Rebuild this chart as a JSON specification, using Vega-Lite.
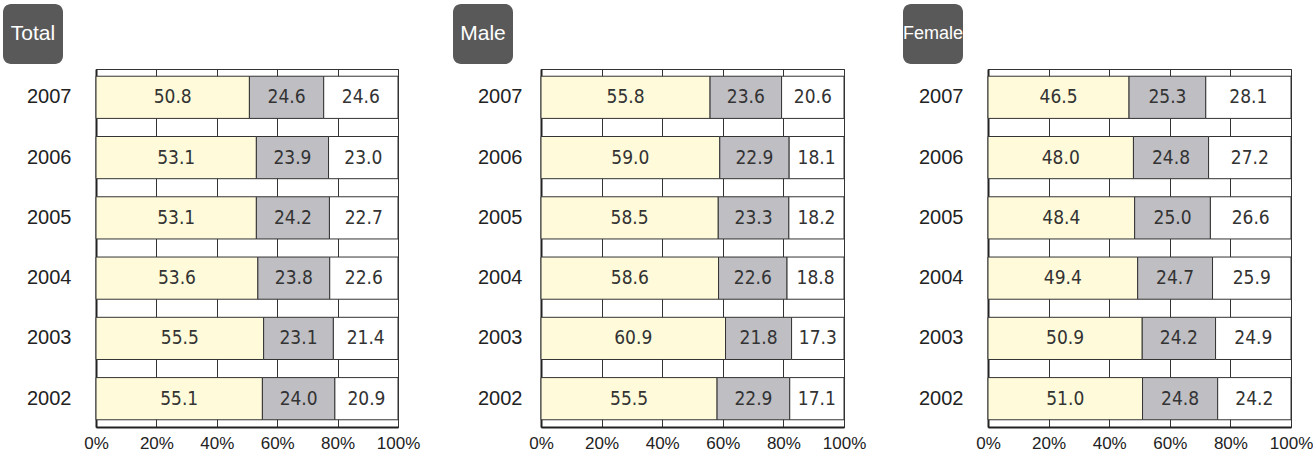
{
  "$schema": "https://vega.github.io/schema/vega-lite/v6.json",
  "padding": {"left": 3, "top": 4, "right": 0, "bottom": 0},
  "background": "white",
  "config": {
    "view": {"stroke": "#333", "strokeWidth": 1},
    "font": "Liberation Sans"
  },
  "datasets": {
    "d": [
      {"panel": "Total", "year": "2007", "seg": "seg1", "value": 50.8},
      {"panel": "Total", "year": "2007", "seg": "seg2", "value": 24.6},
      {"panel": "Total", "year": "2007", "seg": "seg3", "value": 24.6},
      {"panel": "Total", "year": "2006", "seg": "seg1", "value": 53.1},
      {"panel": "Total", "year": "2006", "seg": "seg2", "value": 23.9},
      {"panel": "Total", "year": "2006", "seg": "seg3", "value": 23.0},
      {"panel": "Total", "year": "2005", "seg": "seg1", "value": 53.1},
      {"panel": "Total", "year": "2005", "seg": "seg2", "value": 24.2},
      {"panel": "Total", "year": "2005", "seg": "seg3", "value": 22.7},
      {"panel": "Total", "year": "2004", "seg": "seg1", "value": 53.6},
      {"panel": "Total", "year": "2004", "seg": "seg2", "value": 23.8},
      {"panel": "Total", "year": "2004", "seg": "seg3", "value": 22.6},
      {"panel": "Total", "year": "2003", "seg": "seg1", "value": 55.5},
      {"panel": "Total", "year": "2003", "seg": "seg2", "value": 23.1},
      {"panel": "Total", "year": "2003", "seg": "seg3", "value": 21.4},
      {"panel": "Total", "year": "2002", "seg": "seg1", "value": 55.1},
      {"panel": "Total", "year": "2002", "seg": "seg2", "value": 24.0},
      {"panel": "Total", "year": "2002", "seg": "seg3", "value": 20.9},
      {"panel": "Male", "year": "2007", "seg": "seg1", "value": 55.8},
      {"panel": "Male", "year": "2007", "seg": "seg2", "value": 23.6},
      {"panel": "Male", "year": "2007", "seg": "seg3", "value": 20.6},
      {"panel": "Male", "year": "2006", "seg": "seg1", "value": 59.0},
      {"panel": "Male", "year": "2006", "seg": "seg2", "value": 22.9},
      {"panel": "Male", "year": "2006", "seg": "seg3", "value": 18.1},
      {"panel": "Male", "year": "2005", "seg": "seg1", "value": 58.5},
      {"panel": "Male", "year": "2005", "seg": "seg2", "value": 23.3},
      {"panel": "Male", "year": "2005", "seg": "seg3", "value": 18.2},
      {"panel": "Male", "year": "2004", "seg": "seg1", "value": 58.6},
      {"panel": "Male", "year": "2004", "seg": "seg2", "value": 22.6},
      {"panel": "Male", "year": "2004", "seg": "seg3", "value": 18.8},
      {"panel": "Male", "year": "2003", "seg": "seg1", "value": 60.9},
      {"panel": "Male", "year": "2003", "seg": "seg2", "value": 21.8},
      {"panel": "Male", "year": "2003", "seg": "seg3", "value": 17.3},
      {"panel": "Male", "year": "2002", "seg": "seg1", "value": 55.5},
      {"panel": "Male", "year": "2002", "seg": "seg2", "value": 22.9},
      {"panel": "Male", "year": "2002", "seg": "seg3", "value": 17.1},
      {"panel": "Female", "year": "2007", "seg": "seg1", "value": 46.5},
      {"panel": "Female", "year": "2007", "seg": "seg2", "value": 25.3},
      {"panel": "Female", "year": "2007", "seg": "seg3", "value": 28.1},
      {"panel": "Female", "year": "2006", "seg": "seg1", "value": 48.0},
      {"panel": "Female", "year": "2006", "seg": "seg2", "value": 24.8},
      {"panel": "Female", "year": "2006", "seg": "seg3", "value": 27.2},
      {"panel": "Female", "year": "2005", "seg": "seg1", "value": 48.4},
      {"panel": "Female", "year": "2005", "seg": "seg2", "value": 25.0},
      {"panel": "Female", "year": "2005", "seg": "seg3", "value": 26.6},
      {"panel": "Female", "year": "2004", "seg": "seg1", "value": 49.4},
      {"panel": "Female", "year": "2004", "seg": "seg2", "value": 24.7},
      {"panel": "Female", "year": "2004", "seg": "seg3", "value": 25.9},
      {"panel": "Female", "year": "2003", "seg": "seg1", "value": 50.9},
      {"panel": "Female", "year": "2003", "seg": "seg2", "value": 24.2},
      {"panel": "Female", "year": "2003", "seg": "seg3", "value": 24.9},
      {"panel": "Female", "year": "2002", "seg": "seg1", "value": 51.0},
      {"panel": "Female", "year": "2002", "seg": "seg2", "value": 24.8},
      {"panel": "Female", "year": "2002", "seg": "seg3", "value": 24.2}
    ]
  },
  "spacing": 4,
  "vconcat": [
    {
      "data": {"values": [{"label": "Total"}, {"label": "Male"}, {"label": "Female"}]},
      "width": 867, "height": 60,
      "view": {"stroke": null},
      "encoding": {
        "x": {"field": "label", "type": "nominal", "sort": null, "axis": null,
          "scale": {"type": "band", "range": [-93, 867], "paddingInner": 0.866667, "paddingOuter": 0}}
      },
      "layer": [
        {"mark": {"type": "bar", "color": "#595959", "cornerRadius": 8, "clip": false}},
        {
          "mark": {"type": "text", "color": "white", "font": "Liberation Sans", "clip": false},
          "encoding": {
            "text": {"field": "label"},
            "size": {"condition": {"test": "datum.label === 'Female'", "value": 18}, "value": 21}
          }
        }
      ]
    },
    {
      "spacing": 36,
      "hconcat": [
        {
          "data": {"name": "d"},
          "transform": [{"filter": "datum.panel === 'Total'"}],
          "width": 302, "height": 358,
          "encoding": {
            "y": {"field": "year", "type": "ordinal", "sort": "descending",
              "scale": {"paddingInner": 0.3, "paddingOuter": 0.12},
              "axis": {"title": null, "labelFontSize": 20, "labelPadding": 25, "ticks": false, "domainColor": "#222", "domainWidth": 2, "labelColor": "#222", "labelFont": "Liberation Sans"}}
          },
          "layer": [
            {
              "mark": {"type": "bar", "stroke": "#333", "strokeWidth": 1},
              "encoding": {
                "x": {"field": "value", "type": "quantitative", "stack": "normalize",
                  "axis": {"title": null, "format": ".0%", "values": [0, 0.2, 0.4, 0.6, 0.8, 1], "grid": true, "gridColor": "#333", "gridWidth": 1, "ticks": false, "domainColor": "#222", "domainWidth": 2, "labelFontSize": 17, "labelPadding": 8, "labelColor": "#222", "labelFlush": false, "labelOverlap": false, "labelFont": "Liberation Sans"}},
                "color": {"field": "seg", "type": "nominal", "scale": {"domain": ["seg1", "seg2", "seg3"], "range": ["#FFFADA", "#BEBEC3", "#FFFFFF"]}, "legend": null},
                "order": {"field": "seg"}
              }
            },
            {
              "mark": {"type": "text", "font": "DejaVu Sans Condensed, Liberation Sans", "fontSize": 19, "color": "#333"},
              "encoding": {
                "x": {"field": "value", "type": "quantitative", "stack": "normalize", "bandPosition": 0.5},
                "detail": {"field": "seg"},
                "order": {"field": "seg"},
                "text": {"field": "value", "format": ".1f"}
              }
            }
          ]
        },
        {
          "data": {"name": "d"},
          "transform": [{"filter": "datum.panel === 'Male'"}],
          "width": 303, "height": 358,
          "encoding": {
            "y": {"field": "year", "type": "ordinal", "sort": "descending",
              "scale": {"paddingInner": 0.3, "paddingOuter": 0.12},
              "axis": {"title": " ", "titleFontSize": 10, "titlePadding": 10, "labelFontSize": 20, "labelPadding": 19, "ticks": false, "domainColor": "#222", "domainWidth": 2, "labelColor": "#222", "labelFont": "Liberation Sans"}}
          },
          "layer": [
            {
              "mark": {"type": "bar", "stroke": "#333", "strokeWidth": 1},
              "encoding": {
                "x": {"field": "value", "type": "quantitative", "stack": "normalize",
                  "axis": {"title": null, "format": ".0%", "values": [0, 0.2, 0.4, 0.6, 0.8, 1], "grid": true, "gridColor": "#333", "gridWidth": 1, "ticks": false, "domainColor": "#222", "domainWidth": 2, "labelFontSize": 17, "labelPadding": 8, "labelColor": "#222", "labelFlush": false, "labelOverlap": false, "labelFont": "Liberation Sans"}},
                "color": {"field": "seg", "type": "nominal", "scale": {"domain": ["seg1", "seg2", "seg3"], "range": ["#FFFADA", "#BEBEC3", "#FFFFFF"]}, "legend": null},
                "order": {"field": "seg"}
              }
            },
            {
              "mark": {"type": "text", "font": "DejaVu Sans Condensed, Liberation Sans", "fontSize": 19, "color": "#333"},
              "encoding": {
                "x": {"field": "value", "type": "quantitative", "stack": "normalize", "bandPosition": 0.5},
                "detail": {"field": "seg"},
                "order": {"field": "seg"},
                "text": {"field": "value", "format": ".1f"}
              }
            }
          ]
        },
        {
          "data": {"name": "d"},
          "transform": [{"filter": "datum.panel === 'Female'"}],
          "width": 303, "height": 358,
          "encoding": {
            "y": {"field": "year", "type": "ordinal", "sort": "descending",
              "scale": {"paddingInner": 0.3, "paddingOuter": 0.12},
              "axis": {"title": " ", "titleFontSize": 10, "titlePadding": 5, "labelFontSize": 20, "labelPadding": 25, "ticks": false, "domainColor": "#222", "domainWidth": 2, "labelColor": "#222", "labelFont": "Liberation Sans"}}
          },
          "layer": [
            {
              "mark": {"type": "bar", "stroke": "#333", "strokeWidth": 1},
              "encoding": {
                "x": {"field": "value", "type": "quantitative", "stack": "normalize",
                  "axis": {"title": null, "format": ".0%", "values": [0, 0.2, 0.4, 0.6, 0.8, 1], "grid": true, "gridColor": "#333", "gridWidth": 1, "ticks": false, "domainColor": "#222", "domainWidth": 2, "labelFontSize": 17, "labelPadding": 8, "labelColor": "#222", "labelFlush": false, "labelOverlap": false, "labelFont": "Liberation Sans"}},
                "color": {"field": "seg", "type": "nominal", "scale": {"domain": ["seg1", "seg2", "seg3"], "range": ["#FFFADA", "#BEBEC3", "#FFFFFF"]}, "legend": null},
                "order": {"field": "seg"}
              }
            },
            {
              "mark": {"type": "text", "font": "DejaVu Sans Condensed, Liberation Sans", "fontSize": 19, "color": "#333"},
              "encoding": {
                "x": {"field": "value", "type": "quantitative", "stack": "normalize", "bandPosition": 0.5},
                "detail": {"field": "seg"},
                "order": {"field": "seg"},
                "text": {"field": "value", "format": ".1f"}
              }
            }
          ]
        }
      ]
    }
  ]
}
